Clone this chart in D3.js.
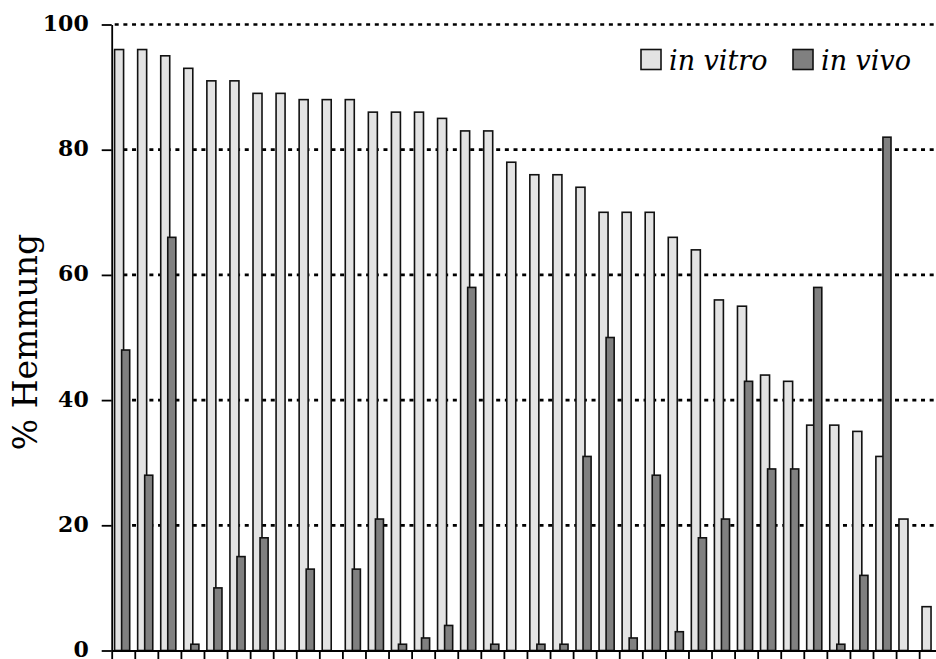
<!DOCTYPE html>
<html>
<head>
<meta charset="utf-8">
<script src="https://cdn.jsdelivr.net/npm/d3@7"></script>
<style>
  html, body { margin: 0; padding: 0; background: #fff; }
  svg { display: block; }
  .serif { font-family: "DejaVu Serif", serif; }
</style>
</head>
<body>
<svg id="chart" width="936" height="659"></svg>
<script>
// ---- data ----
const categories = d3.range(1, 37).map(String);
const inVitro = [96, 96, 95, 93, 91, 91, 89, 89, 88, 88, 88, 86, 86, 86, 85, 83, 83, 78,
                 76, 76, 74, 70, 70, 70, 66, 64, 56, 55, 44, 43, 36, 36, 35, 31, 21, 7];
const inVivo  = [48, 28, 66, 1, 10, 15, 18, 0, 13, 0, 13, 21, 1, 2, 4, 58, 1, 0,
                 1, 1, 31, 50, 2, 28, 3, 18, 21, 43, 29, 29, 58, 1, 12, 82, 0, 0];
const yTicks = [0, 20, 40, 60, 80, 100];
const seriesNames = ["in vitro", "in vivo"];
const seriesColors = ["#e3e3e3", "#808080"];

// ---- layout ----
const W = 936, H = 659;
const x0 = 111.7, step = 23.07;
const svg = d3.select("#chart");

const x = d3.scaleBand().domain(categories).range([x0, x0 + step * categories.length])
  .paddingInner(0).paddingOuter(0);
const xLin = d3.scaleLinear().domain([0, categories.length]).range([x0, x0 + step * categories.length]);
const y = d3.scaleLinear().domain([0, 100]).range([650.5, 24.5]);

// gridlines
svg.append("g").selectAll("line").data(yTicks.filter(d => d > 0)).join("line")
  .attr("x1", x0 + 3).attr("x2", W)
  .attr("y1", d => y(d)).attr("y2", d => y(d))
  .attr("stroke", "#000").attr("stroke-width", 2.7)
  .attr("stroke-dasharray", "4,4.67");

// bars
const bw = x.bandwidth();
const gBars = svg.append("g");
gBars.selectAll("rect.vitro").data(categories).join("rect")
  .attr("class", "vitro")
  .attr("x", d => x(d) + bw * 0.125)
  .attr("width", bw * 0.39)
  .attr("y", (d, i) => y(inVitro[i]))
  .attr("height", (d, i) => y(0) - y(inVitro[i]))
  .attr("fill", seriesColors[0]).attr("stroke", "#111").attr("stroke-width", 1.6);
gBars.selectAll("rect.vivo").data(categories.filter((d, i) => inVivo[i] > 0)).join("rect")
  .attr("class", "vivo")
  .attr("x", d => x(d) + bw * 0.43)
  .attr("width", bw * 0.35)
  .attr("y", d => y(inVivo[categories.indexOf(d)]))
  .attr("height", d => y(0) - y(inVivo[categories.indexOf(d)]))
  .attr("fill", seriesColors[1]).attr("stroke", "#111").attr("stroke-width", 1.6);

// y axis
const yAxis = svg.append("g").attr("transform", `translate(${x0},0)`)
  .call(d3.axisLeft(y).tickValues(yTicks).tickSize(10).tickSizeOuter(0).tickPadding(13));
yAxis.attr("font-family", null).attr("font-size", null);
yAxis.select(".domain").attr("stroke", "#000").attr("stroke-width", 1.8);
yAxis.selectAll(".tick line").attr("stroke", "#000").attr("stroke-width", 1.8);
yAxis.selectAll(".tick text")
  .attr("class", "serif")
  .style("font-weight", "bold").style("font-size", "22px").attr("fill", "#000")
  .attr("dy", "0.27em");

// x axis (ticks at category boundaries)
const xAxis = svg.append("g").attr("transform", `translate(0,${y(0)})`)
  .call(d3.axisBottom(xLin).tickValues(d3.range(0, categories.length + 1))
    .tickFormat("").tickSize(10).tickSizeOuter(0));
xAxis.select(".domain").attr("stroke", "#000").attr("stroke-width", 1.8);
xAxis.selectAll(".tick line").attr("stroke", "#000").attr("stroke-width", 1.8);

// y axis title
svg.append("text")
  .attr("class", "serif")
  .attr("transform", "translate(37,342) rotate(-90)")
  .attr("text-anchor", "middle")
  .style("font-size", "33px").attr("fill", "#000")
  .text("% Hemmung");

// legend
const legendX = [641, 793];
const leg = svg.append("g");
seriesNames.forEach((name, i) => {
  leg.append("rect").attr("x", legendX[i]).attr("y", 49.5).attr("width", 20).attr("height", 20)
    .attr("fill", seriesColors[i]).attr("stroke", "#111").attr("stroke-width", 1.6);
  leg.append("text").attr("class", "serif").attr("x", legendX[i] + 28).attr("y", 70)
    .style("font-style", "italic").style("font-size", "27px").attr("fill", "#000")
    .text(name);
});
</script>
</body>
</html>
